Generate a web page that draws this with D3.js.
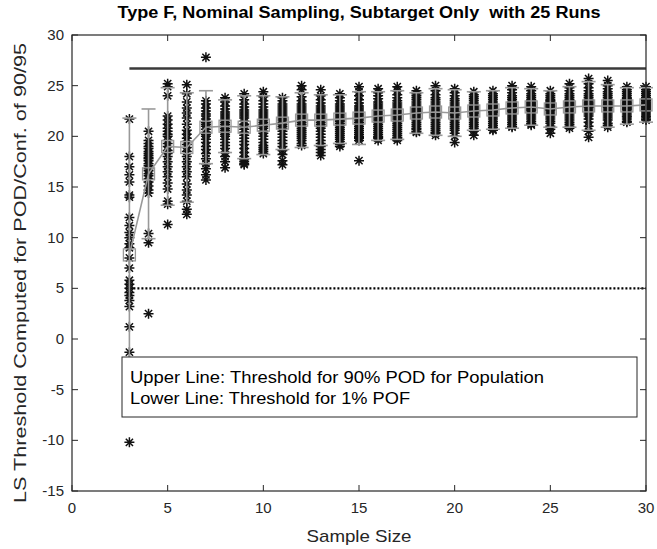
<!DOCTYPE html>
<html>
<head>
<meta charset="utf-8">
<script src="https://cdn.jsdelivr.net/npm/d3@7"></script>
<style>
  body { margin: 0; background: #fff; }
  svg { display: block; font-family: "Liberation Sans", Arial, Helvetica, sans-serif; }
</style>
</head>
<body>
<svg id="chart"></svg>
<script>
// sample sizes on the x axis
var sample_sizes = [3, 4, 5, 6, 7, 8, 9, 10, 11, 12, 13, 14, 15, 16, 17, 18, 19, 20, 21, 22, 23, 24, 25, 26, 27, 28, 29, 30];

// 25 runs per sample size
var runs = [
  [21.7, 18.0, 17.0, 16.2, 15.5, 14.2, 14.0, 12.0, 11.2, 10.5, 10.0, 9.4, 9.0, 7.0, 5.8, 5.4, 5.0, 4.6, 4.3, 3.8, 3.2, 1.2, -1.3, -10.2, 8.0],
  [20.5, 19.6, 19.3, 19.0, 18.8, 18.5, 18.3, 18.1, 17.8, 17.6, 17.3, 17.1, 16.8, 16.6, 16.3, 16.1, 15.8, 15.5, 15.1, 14.7, 14.4, 10.4, 9.5, 2.5, 17.9],
  [25.2, 24.9, 24.0, 22.0, 21.6, 21.2, 20.8, 20.5, 20.2, 20.0, 19.6, 19.3, 19.0, 18.6, 18.3, 18.0, 17.5, 17.0, 16.5, 16.0, 15.4, 14.8, 13.6, 13.3, 11.3],
  [25.1, 24.2, 23.4, 22.8, 22.3, 21.8, 21.2, 20.6, 20.2, 19.8, 19.5, 19.2, 18.9, 18.5, 18.0, 17.5, 17.0, 16.5, 16.0, 15.3, 14.7, 14.2, 13.6, 12.8, 12.3],
  [27.8, 23.5, 23.2, 22.8, 22.5, 22.2, 22.0, 21.7, 21.4, 21.2, 21.0, 20.7, 20.4, 20.2, 20.0, 19.7, 19.4, 19.0, 18.7, 18.3, 17.8, 17.3, 16.8, 16.2, 15.7],
  [23.8, 23.4, 23.0, 22.7, 22.4, 22.2, 22.0, 21.8, 21.6, 21.4, 21.2, 21.0, 20.8, 20.6, 20.4, 20.2, 20.0, 19.7, 19.4, 19.1, 18.8, 18.4, 18.0, 17.5, 16.9],
  [24.2, 23.6, 23.2, 22.9, 22.6, 22.4, 22.2, 22.0, 21.8, 21.5, 21.2, 21.0, 20.7, 20.4, 20.1, 19.8, 19.5, 19.2, 18.8, 18.4, 18.0, 17.7, 17.5, 17.3, 17.2],
  [24.4, 23.9, 23.5, 23.2, 22.9, 22.6, 22.4, 22.2, 22.0, 21.8, 21.6, 21.4, 21.2, 21.0, 20.8, 20.5, 20.3, 20.0, 19.7, 19.4, 19.1, 18.9, 18.7, 18.5, 18.3],
  [23.8, 23.5, 23.2, 23.0, 22.8, 22.6, 22.4, 22.2, 22.0, 21.8, 21.6, 21.4, 21.2, 21.0, 20.8, 20.5, 20.2, 19.9, 19.6, 19.3, 19.0, 18.6, 18.2, 17.6, 17.2],
  [25.0, 24.6, 23.9, 23.5, 23.2, 23.0, 22.8, 22.6, 22.4, 22.2, 22.0, 21.8, 21.6, 21.4, 21.2, 21.0, 20.8, 20.6, 20.4, 20.2, 20.0, 19.8, 19.6, 19.3, 19.1],
  [24.6, 24.0, 23.6, 23.3, 23.0, 22.8, 22.6, 22.4, 22.2, 22.0, 21.8, 21.6, 21.4, 21.2, 21.0, 20.8, 20.5, 20.2, 19.9, 19.6, 19.3, 19.0, 18.7, 18.4, 18.1],
  [24.2, 23.8, 23.5, 23.2, 23.0, 22.8, 22.6, 22.4, 22.2, 22.0, 21.8, 21.6, 21.5, 21.3, 21.1, 20.9, 20.7, 20.5, 20.3, 20.1, 19.9, 19.7, 19.5, 19.2, 19.0],
  [24.9, 24.4, 24.0, 23.6, 23.3, 23.0, 22.8, 22.6, 22.4, 22.2, 22.0, 21.8, 21.6, 21.4, 21.2, 21.0, 20.8, 20.6, 20.4, 20.2, 20.0, 19.9, 19.8, 19.6, 17.6],
  [24.7, 24.3, 24.0, 23.7, 23.4, 23.2, 23.0, 22.8, 22.6, 22.4, 22.2, 22.0, 21.8, 21.6, 21.4, 21.2, 21.0, 20.8, 20.6, 20.4, 20.2, 20.0, 19.9, 19.8, 19.6],
  [24.9, 24.5, 24.1, 23.8, 23.5, 23.3, 23.1, 22.9, 22.7, 22.5, 22.3, 22.1, 21.9, 21.7, 21.5, 21.3, 21.1, 20.9, 20.7, 20.5, 20.3, 20.1, 19.9, 19.8, 19.6],
  [24.5, 24.2, 24.0, 23.8, 23.6, 23.4, 23.2, 23.0, 22.8, 22.7, 22.6, 22.5, 22.4, 22.3, 22.2, 22.0, 21.8, 21.6, 21.4, 21.2, 21.0, 20.8, 20.7, 20.5, 20.4],
  [25.0, 24.5, 24.1, 23.8, 23.6, 23.4, 23.2, 23.0, 22.8, 22.6, 22.4, 22.3, 22.2, 22.1, 22.0, 21.8, 21.6, 21.4, 21.2, 21.0, 20.8, 20.6, 20.4, 20.3, 20.1],
  [24.7, 24.3, 24.0, 23.7, 23.5, 23.3, 23.1, 22.9, 22.7, 22.5, 22.4, 22.3, 22.2, 22.1, 22.0, 21.8, 21.6, 21.4, 21.2, 21.0, 20.8, 20.6, 20.3, 20.0, 19.4],
  [24.4, 24.1, 23.9, 23.7, 23.5, 23.3, 23.1, 23.0, 22.9, 22.8, 22.7, 22.6, 22.5, 22.4, 22.3, 22.2, 22.0, 21.8, 21.6, 21.4, 21.2, 21.0, 20.8, 20.5, 20.1],
  [24.5, 24.2, 24.0, 23.8, 23.6, 23.4, 23.2, 23.1, 23.0, 22.9, 22.8, 22.7, 22.6, 22.5, 22.4, 22.3, 22.1, 21.9, 21.7, 21.5, 21.3, 21.1, 20.9, 20.7, 20.6],
  [25.0, 24.6, 24.3, 24.0, 23.8, 23.6, 23.4, 23.3, 23.2, 23.1, 23.0, 22.9, 22.8, 22.7, 22.6, 22.5, 22.4, 22.2, 22.0, 21.8, 21.6, 21.4, 21.2, 21.0, 20.9],
  [24.9, 24.5, 24.2, 24.0, 23.8, 23.6, 23.5, 23.4, 23.3, 23.2, 23.1, 23.0, 22.9, 22.8, 22.7, 22.6, 22.5, 22.3, 22.1, 21.9, 21.7, 21.5, 21.3, 21.2, 21.1],
  [24.5, 24.2, 24.0, 23.8, 23.6, 23.5, 23.4, 23.3, 23.2, 23.1, 23.0, 22.9, 22.8, 22.7, 22.6, 22.5, 22.3, 22.1, 21.9, 21.7, 21.5, 21.3, 21.0, 20.7, 20.3],
  [25.2, 24.8, 24.5, 24.2, 24.0, 23.8, 23.6, 23.5, 23.4, 23.3, 23.2, 23.1, 23.0, 22.9, 22.8, 22.6, 22.4, 22.2, 22.0, 21.8, 21.6, 21.4, 21.2, 21.0, 20.8],
  [25.7, 25.2, 24.8, 24.5, 24.2, 24.0, 23.8, 23.6, 23.5, 23.4, 23.3, 23.2, 23.1, 23.0, 22.9, 22.8, 22.6, 22.4, 22.2, 22.0, 21.7, 21.4, 21.0, 20.5, 19.9],
  [25.5, 25.0, 24.7, 24.4, 24.2, 24.0, 23.8, 23.6, 23.5, 23.4, 23.3, 23.2, 23.1, 23.0, 22.9, 22.8, 22.6, 22.4, 22.2, 22.0, 21.8, 21.6, 21.3, 21.1, 20.9],
  [24.9, 24.6, 24.4, 24.2, 24.0, 23.8, 23.7, 23.6, 23.5, 23.4, 23.3, 23.2, 23.1, 23.0, 22.9, 22.8, 22.7, 22.6, 22.4, 22.2, 22.0, 21.9, 21.7, 21.5, 21.4],
  [24.9, 24.6, 24.4, 24.2, 24.0, 23.8, 23.7, 23.6, 23.5, 23.4, 23.3, 23.2, 23.1, 23.0, 22.9, 22.8, 22.7, 22.6, 22.5, 22.4, 22.2, 22.0, 21.9, 21.7, 21.6]
];

// mean marker (square) and errorbar half length per sample size
var mean_values = [8.3, 16.3, 19.0, 18.9, 20.9, 21.0, 20.9, 21.1, 21.3, 21.6, 21.6, 21.7, 21.8, 22.0, 22.1, 22.3, 22.4, 22.3, 22.5, 22.6, 22.8, 22.9, 22.7, 22.9, 23.0, 23.0, 23.0, 23.1];
var error_values = [13.5, 6.4, 5.8, 5.4, 3.6, 2.6, 3.1, 2.9, 2.6, 2.7, 2.5, 2.4, 2.6, 2.4, 2.4, 2.0, 2.3, 2.3, 1.9, 1.9, 2.0, 1.8, 1.8, 2.0, 2.4, 2.1, 1.8, 1.7];

// reference thresholds
var upper_threshold = 26.7;
var lower_threshold = 5;

var x_ticks = [0, 5, 10, 15, 20, 25, 30];
var y_ticks = [-15, -10, -5, 0, 5, 10, 15, 20, 25, 30];
var legend_lines = ['Upper Line: Threshold for 90% POD for Population', 'Lower Line: Threshold for 1% POF'];

// layout
var svg_width = 657,
  svg_height = 549,
  margin = { left: 72, right: 11, top: 35, bottom: 58 };
var plot_w = svg_width - margin.left - margin.right,
  plot_h = svg_height - margin.top - margin.bottom;
var axis_color = '#262626';

var svg = d3.select('#chart').attr('width', svg_width).attr('height', svg_height);

var x = d3.scaleLinear().domain([0, 30]).range([margin.left, margin.left + plot_w]);
var y = d3.scaleLinear().domain([-15, 30]).range([margin.top + plot_h, margin.top]);

var g = svg.append('g');

// threshold lines
g.append('line')
  .attr('x1', x(3)).attr('x2', x(30))
  .attr('y1', y(upper_threshold)).attr('y2', y(upper_threshold))
  .attr('stroke', '#3a3a3a').attr('stroke-width', 2.4);

g.append('line')
  .attr('x1', x(3)).attr('x2', x(30))
  .attr('y1', y(lower_threshold)).attr('y2', y(lower_threshold))
  .attr('stroke', '#000').attr('stroke-width', 2.4)
  .attr('stroke-dasharray', '2,2');

// asterisk points
var points = [];
sample_sizes.forEach(function(s, i) {
  runs[i].forEach(function(v) { points.push({ s: s, v: v }); });
});

var star = 'M-5,0H5M0,-5V5M-3.6,-3.6L3.6,3.6M-3.6,3.6L3.6,-3.6';
g.selectAll('.pt')
  .data(points)
  .enter()
  .append('path')
  .attr('class', 'pt')
  .attr('d', star)
  .attr('transform', function(d) { return 'translate(' + x(d.s) + ',' + y(d.v) + ')'; })
  .attr('fill', 'none')
  .attr('stroke', '#111')
  .attr('stroke-width', 1.5);

// errorbars
var stats = sample_sizes.map(function(s, i) {
  return { s: s, m: mean_values[i], e: error_values[i] };
});
var eb_color = '#999';

g.append('path')
  .datum(stats)
  .attr('d', d3.line().x(function(d) { return x(d.s); }).y(function(d) { return y(d.m); }))
  .attr('fill', 'none')
  .attr('stroke', eb_color)
  .attr('stroke-width', 1.6);

var eb = g.selectAll('.eb').data(stats).enter().append('g').attr('class', 'eb');
eb.append('line')
  .attr('x1', function(d) { return x(d.s); }).attr('x2', function(d) { return x(d.s); })
  .attr('y1', function(d) { return y(d.m - d.e); }).attr('y2', function(d) { return y(d.m + d.e); })
  .attr('stroke', eb_color).attr('stroke-width', 1.6);
[1, -1].forEach(function(sign) {
  eb.append('line')
    .attr('x1', function(d) { return x(d.s) - 7; }).attr('x2', function(d) { return x(d.s) + 7; })
    .attr('y1', function(d) { return y(d.m + sign * d.e); }).attr('y2', function(d) { return y(d.m + sign * d.e); })
    .attr('stroke', eb_color).attr('stroke-width', 1.6);
});
eb.append('rect')
  .attr('x', function(d) { return x(d.s) - 6; })
  .attr('y', function(d) { return y(d.m) - 6; })
  .attr('width', 12).attr('height', 12)
  .attr('fill', 'none')
  .attr('stroke', eb_color).attr('stroke-width', 1.3);

// legend box
var lg = svg.append('g').attr('transform', 'translate(122,357)');
lg.append('rect')
  .attr('width', 515).attr('height', 60)
  .attr('fill', '#fff').attr('stroke', axis_color).attr('stroke-width', 1);
var legend_widths = [414, 280];
lg.selectAll('text')
  .data(legend_lines)
  .enter()
  .append('text')
  .attr('x', 8)
  .attr('y', function(d, i) { return 26 + i * 21; })
  .attr('font-size', 16)
  .attr('textLength', function(d, i) { return legend_widths[i]; })
  .attr('lengthAdjust', 'spacingAndGlyphs')
  .attr('fill', '#000')
  .text(function(d) { return d; });

// axes box with inward ticks on all sides
var ax = svg.append('g').attr('stroke', axis_color).attr('fill', 'none');
ax.append('rect')
  .attr('x', margin.left).attr('y', margin.top)
  .attr('width', plot_w).attr('height', plot_h)
  .attr('stroke-width', 1.2);

x_ticks.forEach(function(t) {
  ax.append('line').attr('x1', x(t)).attr('x2', x(t)).attr('y1', y(-15)).attr('y2', y(-15) - 6);
  ax.append('line').attr('x1', x(t)).attr('x2', x(t)).attr('y1', y(30)).attr('y2', y(30) + 6);
});
y_ticks.forEach(function(t) {
  ax.append('line').attr('x1', x(0)).attr('x2', x(0) + 6).attr('y1', y(t)).attr('y2', y(t));
  ax.append('line').attr('x1', x(30)).attr('x2', x(30) - 6).attr('y1', y(t)).attr('y2', y(t));
});

svg.append('g').selectAll('text')
  .data(x_ticks)
  .enter()
  .append('text')
  .attr('x', function(d) { return x(d); })
  .attr('y', y(-15) + 22)
  .attr('text-anchor', 'middle')
  .attr('font-size', 15)
  .attr('fill', axis_color)
  .text(function(d) { return d; });

svg.append('g').selectAll('text')
  .data(y_ticks)
  .enter()
  .append('text')
  .attr('x', x(0) - 8)
  .attr('y', function(d) { return y(d) + 5; })
  .attr('text-anchor', 'end')
  .attr('font-size', 15)
  .attr('fill', axis_color)
  .text(function(d) { return d; });

// titles
svg.append('text')
  .attr('x', margin.left + plot_w / 2)
  .attr('y', 18)
  .attr('text-anchor', 'middle')
  .attr('font-size', 16)
  .attr('font-weight', 'bold')
  .attr('textLength', 483)
  .attr('lengthAdjust', 'spacingAndGlyphs')
  .style('white-space', 'pre')
  .text('Type F, Nominal Sampling, Subtarget Only  with 25 Runs');

svg.append('text')
  .attr('x', margin.left + plot_w / 2)
  .attr('y', 542)
  .attr('text-anchor', 'middle')
  .attr('font-size', 17)
  .attr('textLength', 105)
  .attr('lengthAdjust', 'spacingAndGlyphs')
  .attr('fill', axis_color)
  .text('Sample Size');

svg.append('text')
  .attr('transform', 'translate(26,' + (margin.top + plot_h / 2 + 10) + ') rotate(-90)')
  .attr('text-anchor', 'middle')
  .attr('font-size', 17)
  .attr('textLength', 460)
  .attr('lengthAdjust', 'spacingAndGlyphs')
  .attr('fill', axis_color)
  .text('LS Threshold Computed for POD/Conf. of 90/95');
</script>
</body>
</html>
